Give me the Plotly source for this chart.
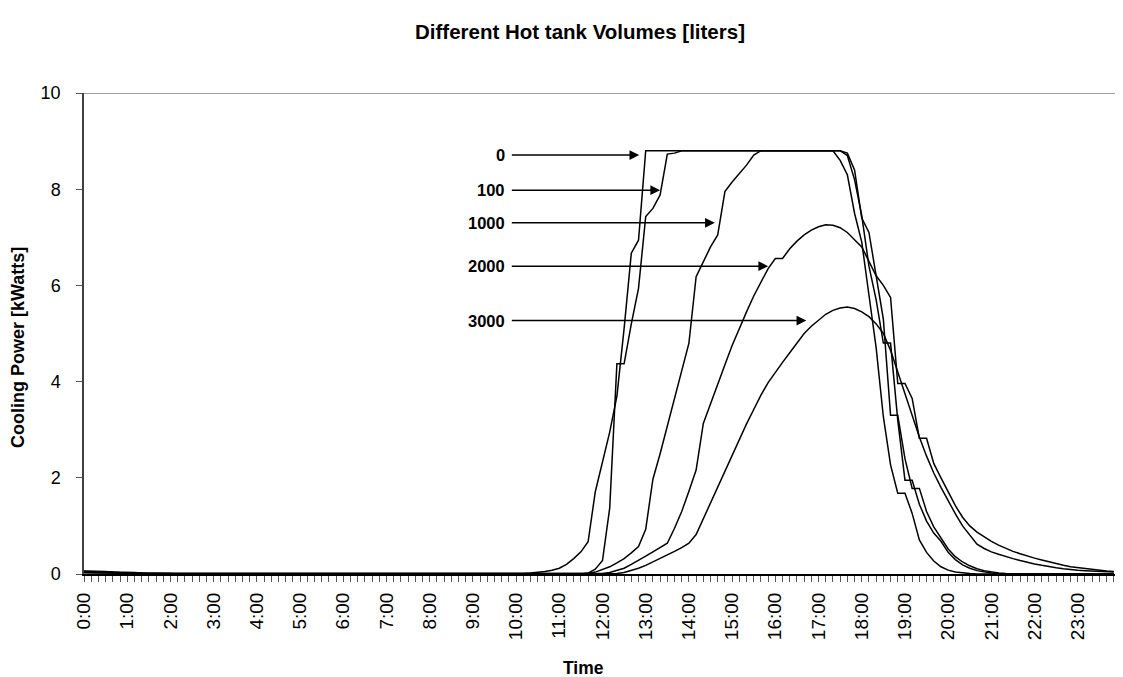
import plotly.graph_objects as go

# 10-minute steps over one day
times = [f"{h}:{m:02d}" for h in range(24) for m in range(0, 60, 10)]
hour_labels = [f"{h}:00" for h in range(24)]

# cooling power [kW] per hot tank volume
p_0 = [
    0.03, 0.03, 0.03, 0.02, 0.02, 0.02, 0.01, 0.01, 0, 0, 0, 0,
    0, 0, 0, 0, 0, 0, 0, 0, 0, 0, 0, 0,
    0, 0, 0, 0, 0, 0, 0, 0, 0, 0, 0, 0,
    0, 0, 0, 0, 0, 0, 0, 0, 0, 0, 0, 0,
    0, 0, 0, 0, 0, 0, 0, 0, 0, 0, 0, 0,
    0, 0.01, 0.02, 0.03, 0.05, 0.08, 0.12, 0.2, 0.32, 0.46, 0.67, 1.71,
    2.35, 2.95, 3.7, 5.1, 6.67, 6.94, 8.8, 8.8, 8.8, 8.8, 8.8, 8.8,
    8.8, 8.8, 8.8, 8.8, 8.8, 8.8, 8.8, 8.8, 8.8, 8.8, 8.8, 8.8,
    8.8, 8.8, 8.8, 8.8, 8.8, 8.8, 8.8, 8.8, 8.8, 8.6, 8.3, 7.5,
    6.9, 5.8, 4.7, 3.27, 2.27, 1.68, 1.68, 1.26, 0.71, 0.45, 0.27, 0.15,
    0.08, 0.04, 0.02, 0.01, 0, 0, 0, 0, 0, 0, 0, 0,
    0, 0, 0, 0, 0, 0, 0, 0, 0, 0, 0, 0,
]
p_100 = [
    0.03, 0.03, 0.03, 0.02, 0.02, 0.02, 0.01, 0.01, 0, 0, 0, 0,
    0, 0, 0, 0, 0, 0, 0, 0, 0, 0, 0, 0,
    0, 0, 0, 0, 0, 0, 0, 0, 0, 0, 0, 0,
    0, 0, 0, 0, 0, 0, 0, 0, 0, 0, 0, 0,
    0, 0, 0, 0, 0, 0, 0, 0, 0, 0, 0, 0,
    0, 0, 0, 0, 0, 0, 0, 0, 0, 0, 0.02, 0.1,
    0.28, 1.37, 4.37, 4.37, 5.2, 5.94, 7.43, 7.6, 7.88, 8.73, 8.75, 8.8,
    8.8, 8.8, 8.8, 8.8, 8.8, 8.8, 8.8, 8.8, 8.8, 8.8, 8.8, 8.8,
    8.8, 8.8, 8.8, 8.8, 8.8, 8.8, 8.8, 8.8, 8.8, 8.8, 8.7, 8.2,
    7.45, 6.4, 5.7, 4.8, 4.8, 3.2, 1.95, 1.95, 1.45, 1.1, 0.85, 0.68,
    0.45, 0.3, 0.19, 0.12, 0.07, 0.04, 0.02, 0.01, 0, 0, 0, 0,
    0, 0, 0, 0, 0, 0, 0, 0, 0, 0, 0, 0,
]
p_1000 = [
    0.03, 0.03, 0.03, 0.02, 0.02, 0.02, 0.01, 0.01, 0, 0, 0, 0,
    0, 0, 0, 0, 0, 0, 0, 0, 0, 0, 0, 0,
    0, 0, 0, 0, 0, 0, 0, 0, 0, 0, 0, 0,
    0, 0, 0, 0, 0, 0, 0, 0, 0, 0, 0, 0,
    0, 0, 0, 0, 0, 0, 0, 0, 0, 0, 0, 0,
    0, 0, 0, 0, 0, 0, 0, 0, 0, 0, 0.01, 0.04,
    0.09, 0.15, 0.23, 0.32, 0.44, 0.57, 0.93, 1.97, 2.5, 3.07, 3.63, 4.2,
    4.8, 6.18, 6.5, 6.8, 7.05, 7.95, 8.15, 8.33, 8.5, 8.71, 8.8, 8.8,
    8.8, 8.8, 8.8, 8.8, 8.8, 8.8, 8.8, 8.8, 8.8, 8.8, 8.75, 8.4,
    7.4, 7.1, 6.2, 5.3, 3.3, 3.3, 2.4, 1.78, 1.78, 1.3, 0.98, 0.74,
    0.52, 0.36, 0.25, 0.17, 0.11, 0.07, 0.04, 0.02, 0.01, 0, 0, 0,
    0, 0, 0, 0, 0, 0, 0, 0, 0, 0, 0, 0,
]
p_2000 = [
    0.05, 0.05, 0.05, 0.04, 0.04, 0.03, 0.03, 0.02, 0.02, 0.01, 0.01, 0,
    0, 0, 0, 0, 0, 0, 0, 0, 0, 0, 0, 0,
    0, 0, 0, 0, 0, 0, 0, 0, 0, 0, 0, 0,
    0, 0, 0, 0, 0, 0, 0, 0, 0, 0, 0, 0,
    0, 0, 0, 0, 0, 0, 0, 0, 0, 0, 0, 0,
    0, 0, 0, 0, 0, 0, 0, 0, 0, 0, 0, 0,
    0.01, 0.03, 0.07, 0.12, 0.2, 0.28, 0.37, 0.46, 0.55, 0.64, 0.95, 1.3,
    1.72, 2.16, 3.13, 3.55, 3.95, 4.35, 4.75, 5.12, 5.45, 5.78, 6.08, 6.35,
    6.56, 6.56, 6.76, 6.92, 7.05, 7.15, 7.22, 7.26, 7.25, 7.2, 7.1, 6.95,
    6.8, 6.5, 6.2, 6.0, 5.75, 3.96, 3.96, 3.65, 2.82, 2.82, 2.3, 2.0,
    1.7, 1.42, 1.18, 1.0, 0.87, 0.77, 0.68, 0.6, 0.53, 0.47, 0.42, 0.37,
    0.33, 0.29, 0.25, 0.21, 0.18, 0.15, 0.13, 0.11, 0.09, 0.07, 0.06, 0.05,
]
p_3000 = [
    0.06, 0.06, 0.05, 0.05, 0.04, 0.04, 0.03, 0.03, 0.02, 0.02, 0.01, 0.01,
    0.01, 0, 0, 0, 0, 0, 0, 0, 0, 0, 0, 0,
    0, 0, 0, 0, 0, 0, 0, 0, 0, 0, 0, 0,
    0, 0, 0, 0, 0, 0, 0, 0, 0, 0, 0, 0,
    0, 0, 0, 0, 0, 0, 0, 0, 0, 0, 0, 0,
    0, 0, 0, 0, 0, 0, 0, 0, 0, 0, 0, 0,
    0, 0, 0.01, 0.03, 0.07, 0.12, 0.18, 0.25, 0.32, 0.4, 0.47, 0.55,
    0.64, 0.82, 1.15, 1.45, 1.8, 2.12, 2.45, 2.8, 3.12, 3.42, 3.72, 3.98,
    4.2, 4.4, 4.6, 4.8, 5.0, 5.15, 5.28, 5.4, 5.48, 5.53, 5.55, 5.52,
    5.45, 5.35, 5.2, 5.0, 4.65, 4.2, 3.75, 3.3, 2.85, 2.45, 2.1, 1.8,
    1.52, 1.25, 1.0, 0.8, 0.62, 0.53, 0.46, 0.41, 0.36, 0.32, 0.28, 0.24,
    0.21, 0.18, 0.15, 0.13, 0.11, 0.09, 0.08, 0.07, 0.06, 0.05, 0.05, 0.04,
]

series = [p_0, p_100, p_1000, p_2000, p_3000]
volume_labels = ['0', '100', '1000', '2000', '3000']
# where each label's arrow points (time step index, kW)
arrow_tip_x = [77.1, 80.0, 87.6, 95.0, 100.3]
arrow_tip_y = [8.71, 7.98, 7.3, 6.4, 5.27]

x = list(range(len(times)))
FONT = 'Liberation Sans, Arial, sans-serif'
W, H = 1123, 677
# page body adds an 8px offset, so the margins are shifted by that much
L, R, T, B = 76, 10, 85, 111
PW, PH = W - L - R, H - T - B


def to_paper(px, py):
    # screen pixel -> paper coordinates
    return (px - 8 - L) / PW, (H - B - (py - 8)) / PH


fig = go.Figure()

for name, vals in zip(volume_labels, series):
    fig.add_trace(go.Scatter(
        x=x, y=vals, mode='lines', name=name,
        line=dict(color='black', width=1.5),
        showlegend=False
    ))

for lbl, tx, ty in zip(volume_labels, arrow_tip_x, arrow_tip_y):
    fig.add_annotation(
        x=tx, y=ty, ax=59.2, ay=ty, xref='x', yref='y', axref='x', ayref='y',
        text='', showarrow=True, arrowhead=2, arrowsize=1.3, arrowwidth=1.5,
        arrowcolor='black'
    )
    fig.add_annotation(
        x=58.8, y=ty, xref='x', yref='y', text=f'<b>{lbl}</b>',
        showarrow=False, xanchor='right', yanchor='middle',
        font=dict(family=FONT, size=16.5, color='black')
    )

# axis titles placed like the original
tx_, ty_ = to_paper(583, 668)
fig.add_annotation(
    x=tx_, y=ty_, xref='paper', yref='paper', text='<b>Time</b>',
    showarrow=False, xanchor='center', yanchor='middle',
    font=dict(family=FONT, size=17.5, color='black')
)
yx_, yy_ = to_paper(18, 348)
fig.add_annotation(
    x=yx_, y=yy_, xref='paper', yref='paper',
    text='<b>Cooling Power [kWatts]</b>', textangle=-90,
    showarrow=False, xanchor='center', yanchor='middle',
    font=dict(family=FONT, size=18, color='black')
)

# top border line at 10 kW
fig.add_shape(type='line', xref='paper', yref='y', x0=0, x1=1, y0=10, y1=10,
              line=dict(color='#808080', width=1.5))

fig.update_xaxes(
    range=[0, 144],
    tickmode='array',
    tickvals=[6 * h for h in range(24)],
    ticktext=hour_labels,
    tickangle=-90,
    ticks='outside', ticklen=6, tickcolor='#555555', tickwidth=1,
    minor=dict(tickmode='linear', tick0=0, dtick=1, ticks='outside',
               ticklen=6, tickcolor='#555555', tickwidth=1),
    showline=True, linecolor='black', linewidth=2,
    showgrid=False, zeroline=False, automargin=False,
    ticklabelstandoff=3,
    tickfont=dict(family=FONT, size=19, color='black'),
)
fig.update_yaxes(
    range=[0, 10],
    tickvals=[0, 2, 4, 6, 8, 10],
    ticks='outside', ticklen=6, tickcolor='#555555',
    showline=True, linecolor='#404040', linewidth=1.5,
    showgrid=False, zeroline=False, automargin=False,
    tickfont=dict(family=FONT, size=18, color='black'),
    ticklabelstandoff=12,
)

fig.update_layout(
    width=W, height=H,
    title=dict(text='<b>Different Hot tank Volumes [liters]</b>',
               x=(580 - 8) / W, xref='container', y=1 - 24 / H,
               yanchor='middle', xanchor='center',
               font=dict(family=FONT, size=20.5, color='black')),
    plot_bgcolor='white', paper_bgcolor='white',
    margin=dict(l=L, r=R, t=T, b=B, autoexpand=False),
)

fig.write_html("out.html")
